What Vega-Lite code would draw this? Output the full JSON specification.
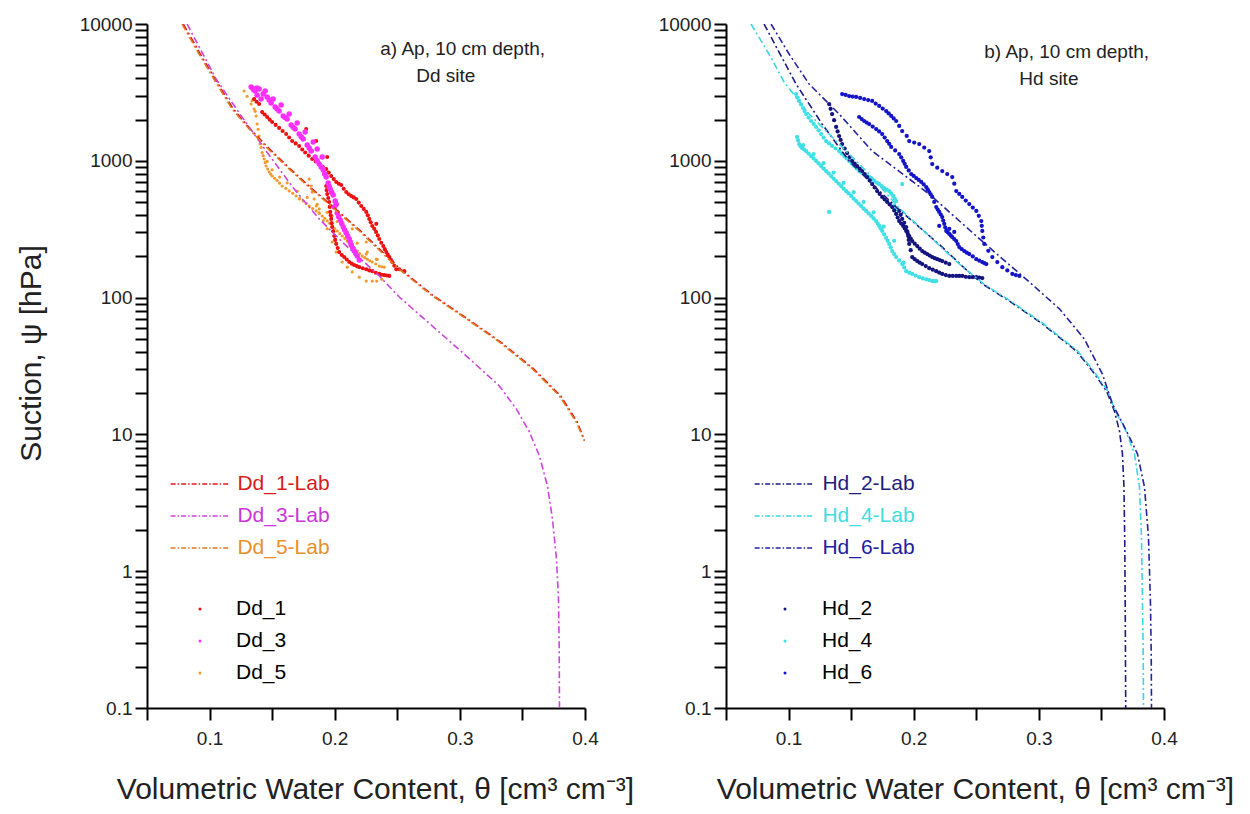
{
  "$schema": "https://vega.github.io/schema/vega-lite/v6.json",
  "background": "white",
  "padding": {"left": 16, "top": 15, "right": 10, "bottom": 4},
  "config": {
    "font": "Liberation Sans",
    "view": {"stroke": null},
    "axis": {"domainColor": "#000", "domainWidth": 2, "tickColor": "#000", "tickWidth": 2, "tickSize": 12, "labelFontSize": 19, "labelColor": "#222", "labelFont": "Liberation Sans", "titleFont": "Liberation Sans", "titleFontWeight": "normal", "titleColor": "#222", "grid": false, "labelOverlap": false, "labelFlush": false, "labelBound": false}
  },
  "bounds": "flush",
  "spacing": 141,
  "resolve": {"scale": {"x": "independent", "y": "independent", "color": "independent", "stroke": "independent"}, "axis": {"x": "independent", "y": "independent"}, "legend": {"color": "independent", "stroke": "independent"}},
  "datasets": {
    "curA": [
      {"series":"Dd_1-Lab","theta":0.079,"psi":10000},{"series":"Dd_1-Lab","theta":0.0926,"psi":6033},{"series":"Dd_1-Lab","theta":0.1054,"psi":3830},{"series":"Dd_1-Lab","theta":0.119,"psi":2390},{"series":"Dd_1-Lab","theta":0.1326,"psi":1707},{"series":"Dd_1-Lab","theta":0.1462,"psi":1262},{"series":"Dd_1-Lab","theta":0.1646,"psi":870},{"series":"Dd_1-Lab","theta":0.1822,"psi":621},{"series":"Dd_1-Lab","theta":0.199,"psi":459},{"series":"Dd_1-Lab","theta":0.2206,"psi":307},{"series":"Dd_1-Lab","theta":0.2526,"psi":161},{"series":"Dd_1-Lab","theta":0.279,"psi":103},{"series":"Dd_1-Lab","theta":0.3062,"psi":69.9},{"series":"Dd_1-Lab","theta":0.3326,"psi":47.3},{"series":"Dd_1-Lab","theta":0.359,"psi":30.1},{"series":"Dd_1-Lab","theta":0.3806,"psi":19.1},{"series":"Dd_1-Lab","theta":0.3938,"psi":12.3},{"series":"Dd_1-Lab","theta":0.3998,"psi":8.96},
      {"series":"Dd_3-Lab","theta":0.082,"psi":10000},{"series":"Dd_3-Lab","theta":0.1052,"psi":3960},{"series":"Dd_3-Lab","theta":0.1236,"psi":2240},{"series":"Dd_3-Lab","theta":0.1452,"psi":1179},{"series":"Dd_3-Lab","theta":0.1676,"psi":621},{"series":"Dd_3-Lab","theta":0.1876,"psi":376},{"series":"Dd_3-Lab","theta":0.2076,"psi":247},{"series":"Dd_3-Lab","theta":0.2356,"psi":144},{"series":"Dd_3-Lab","theta":0.2516,"psi":101},{"series":"Dd_3-Lab","theta":0.278,"psi":62},{"series":"Dd_3-Lab","theta":0.3052,"psi":37.4},{"series":"Dd_3-Lab","theta":0.3316,"psi":22.6},{"series":"Dd_3-Lab","theta":0.3452,"psi":15.3},{"series":"Dd_3-Lab","theta":0.3556,"psi":10.4},{"series":"Dd_3-Lab","theta":0.3636,"psi":6.95},{"series":"Dd_3-Lab","theta":0.37,"psi":4.2},{"series":"Dd_3-Lab","theta":0.374,"psi":2.41},{"series":"Dd_3-Lab","theta":0.3772,"psi":1.23},{"series":"Dd_3-Lab","theta":0.3788,"psi":0.626},{"series":"Dd_3-Lab","theta":0.3794,"psi":0.27},{"series":"Dd_3-Lab","theta":0.3796,"psi":0.1},
      {"series":"Dd_5-Lab","theta":0.078,"psi":10000},{"series":"Dd_5-Lab","theta":0.0916,"psi":6033},{"series":"Dd_5-Lab","theta":0.1044,"psi":3830},{"series":"Dd_5-Lab","theta":0.118,"psi":2390},{"series":"Dd_5-Lab","theta":0.1316,"psi":1707},{"series":"Dd_5-Lab","theta":0.1452,"psi":1262},{"series":"Dd_5-Lab","theta":0.1636,"psi":870},{"series":"Dd_5-Lab","theta":0.1812,"psi":621},{"series":"Dd_5-Lab","theta":0.198,"psi":459},{"series":"Dd_5-Lab","theta":0.2196,"psi":307},{"series":"Dd_5-Lab","theta":0.2516,"psi":161},{"series":"Dd_5-Lab","theta":0.278,"psi":103},{"series":"Dd_5-Lab","theta":0.3052,"psi":69.9},{"series":"Dd_5-Lab","theta":0.3316,"psi":47.3},{"series":"Dd_5-Lab","theta":0.358,"psi":30.1},{"series":"Dd_5-Lab","theta":0.3796,"psi":19.1},{"series":"Dd_5-Lab","theta":0.393,"psi":12.3},{"series":"Dd_5-Lab","theta":0.3996,"psi":8.96}
    ],
    "ptsA": [
      {"series":"Dd_5","theta":0.130,"psi":2960},{"series":"Dd_5","theta":0.1276,"psi":3237},{"series":"Dd_5","theta":0.1332,"psi":2600},{"series":"Dd_5","theta":0.1356,"psi":2390},{"series":"Dd_5","theta":0.1372,"psi":2126},{"series":"Dd_5","theta":0.138,"psi":1857},{"series":"Dd_5","theta":0.1396,"psi":1518},{"series":"Dd_5","theta":0.1404,"psi":1326},{"series":"Dd_5","theta":0.142,"psi":1150},{"series":"Dd_5","theta":0.1436,"psi":1030},{"series":"Dd_5","theta":0.1452,"psi":916},{"series":"Dd_5","theta":0.1476,"psi":828},{"series":"Dd_5","theta":0.15,"psi":774},{"series":"Dd_5","theta":0.154,"psi":718},{"series":"Dd_5","theta":0.158,"psi":654},{"series":"Dd_5","theta":0.1636,"psi":602},{"series":"Dd_5","theta":0.1692,"psi":553},{"series":"Dd_5","theta":0.1748,"psi":508},{"series":"Dd_5","theta":0.1796,"psi":467},{"series":"Dd_5","theta":0.1852,"psi":430},{"series":"Dd_5","theta":0.19,"psi":395},{"series":"Dd_5","theta":0.194,"psi":364},{"series":"Dd_5","theta":0.198,"psi":334},{"series":"Dd_5","theta":0.202,"psi":307},{"series":"Dd_5","theta":0.206,"psi":282},{"series":"Dd_5","theta":0.21,"psi":259},{"series":"Dd_5","theta":0.214,"psi":238},{"series":"Dd_5","theta":0.218,"psi":219},{"series":"Dd_5","theta":0.222,"psi":201},{"series":"Dd_5","theta":0.226,"psi":191},{"series":"Dd_5","theta":0.23,"psi":182},{"series":"Dd_5","theta":0.2356,"psi":170},{"series":"Dd_5","theta":0.2396,"psi":167},
      {"series":"Dd_5","theta":0.134,"psi":2750},{"series":"Dd_5","theta":0.1364,"psi":2300},{"series":"Dd_5","theta":0.1388,"psi":1700},{"series":"Dd_5","theta":0.1412,"psi":1250},{"series":"Dd_5","theta":0.1428,"psi":1090},{"series":"Dd_5","theta":0.1444,"psi":970},{"series":"Dd_5","theta":0.1464,"psi":870},{"series":"Dd_5","theta":0.1488,"psi":800},{"series":"Dd_5","theta":0.152,"psi":745},{"series":"Dd_5","theta":0.156,"psi":686},{"series":"Dd_5","theta":0.161,"psi":628},{"series":"Dd_5","theta":0.1664,"psi":578},{"series":"Dd_5","theta":0.172,"psi":530},{"series":"Dd_5","theta":0.1772,"psi":488},{"series":"Dd_5","theta":0.1824,"psi":448},{"series":"Dd_5","theta":0.1876,"psi":412},{"series":"Dd_5","theta":0.192,"psi":380},{"series":"Dd_5","theta":0.196,"psi":349},{"series":"Dd_5","theta":0.2,"psi":320},{"series":"Dd_5","theta":0.204,"psi":294},{"series":"Dd_5","theta":0.208,"psi":270},{"series":"Dd_5","theta":0.212,"psi":248},{"series":"Dd_5","theta":0.216,"psi":228},{"series":"Dd_5","theta":0.22,"psi":210},{"series":"Dd_5","theta":0.224,"psi":196},{"series":"Dd_5","theta":0.228,"psi":186},{"series":"Dd_5","theta":0.2328,"psi":176},{"series":"Dd_5","theta":0.2376,"psi":168},
      {"series":"Dd_5","theta":0.146,"psi":990},{"series":"Dd_5","theta":0.15,"psi":860},{"series":"Dd_5","theta":0.156,"psi":760},{"series":"Dd_5","theta":0.162,"psi":690},{"series":"Dd_5","theta":0.17,"psi":600},{"series":"Dd_5","theta":0.178,"psi":540},{"series":"Dd_5","theta":0.186,"psi":480},{"series":"Dd_5","theta":0.194,"psi":420},{"series":"Dd_5","theta":0.202,"psi":360},{"series":"Dd_5","theta":0.21,"psi":300},{"series":"Dd_5","theta":0.218,"psi":250},{"series":"Dd_5","theta":0.226,"psi":215},{"series":"Dd_5","theta":0.234,"psi":190},
      {"series":"Dd_5","theta":0.1716,"psi":526},{"series":"Dd_5","theta":0.1876,"psi":445},{"series":"Dd_5","theta":0.198,"psi":395},{"series":"Dd_5","theta":0.214,"psi":318},{"series":"Dd_5","theta":0.2252,"psi":255},
      {"series":"Dd_5","theta":0.1796,"psi":735},{"series":"Dd_5","theta":0.1812,"psi":654},{"series":"Dd_5","theta":0.182,"psi":591},{"series":"Dd_5","theta":0.1836,"psi":526},{"series":"Dd_5","theta":0.1852,"psi":467},{"series":"Dd_5","theta":0.1876,"psi":416},{"series":"Dd_5","theta":0.1908,"psi":364},{"series":"Dd_5","theta":0.194,"psi":318},{"series":"Dd_5","theta":0.198,"psi":255},{"series":"Dd_5","theta":0.2012,"psi":215},{"series":"Dd_5","theta":0.206,"psi":182},{"series":"Dd_5","theta":0.21,"psi":167},{"series":"Dd_5","theta":0.214,"psi":154},{"series":"Dd_5","theta":0.2196,"psi":141},{"series":"Dd_5","theta":0.2252,"psi":132},{"series":"Dd_5","theta":0.23,"psi":132},{"series":"Dd_5","theta":0.2336,"psi":132},{"series":"Dd_5","theta":0.2376,"psi":136},{"series":"Dd_5","theta":0.2252,"psi":208},{"series":"Dd_5","theta":0.2332,"psi":191},
      {"series":"Dd_1","theta":0.1356,"psi":2828},{"series":"Dd_1","theta":0.1396,"psi":2600},{"series":"Dd_1","theta":0.142,"psi":2270},{"series":"Dd_1","theta":0.146,"psi":2090},{"series":"Dd_1","theta":0.15,"psi":1921},{"series":"Dd_1","theta":0.1556,"psi":1740},{"series":"Dd_1","theta":0.1612,"psi":1569},{"series":"Dd_1","theta":0.166,"psi":1395},{"series":"Dd_1","theta":0.1716,"psi":1283},{"series":"Dd_1","theta":0.1764,"psi":1150},{"series":"Dd_1","theta":0.182,"psi":1030},{"series":"Dd_1","theta":0.1876,"psi":947},{"series":"Dd_1","theta":0.1932,"psi":870},{"series":"Dd_1","theta":0.1972,"psi":774},{"series":"Dd_1","theta":0.2012,"psi":700},{"series":"Dd_1","theta":0.2052,"psi":665},{"series":"Dd_1","theta":0.2092,"psi":591},{"series":"Dd_1","theta":0.2132,"psi":553},{"series":"Dd_1","theta":0.2172,"psi":526},{"series":"Dd_1","theta":0.2212,"psi":467},{"series":"Dd_1","theta":0.2252,"psi":423},{"series":"Dd_1","theta":0.2276,"psi":376},{"series":"Dd_1","theta":0.23,"psi":334},{"series":"Dd_1","theta":0.233,"psi":302},{"series":"Dd_1","theta":0.2356,"psi":268},{"series":"Dd_1","theta":0.2388,"psi":238},{"series":"Dd_1","theta":0.2412,"psi":215},{"series":"Dd_1","theta":0.2436,"psi":198},{"series":"Dd_1","theta":0.246,"psi":182},{"series":"Dd_1","theta":0.2492,"psi":161},{"series":"Dd_1","theta":0.2516,"psi":161},{"series":"Dd_1","theta":0.2556,"psi":156},
      {"series":"Dd_1","theta":0.1376,"psi":2700},{"series":"Dd_1","theta":0.144,"psi":2180},{"series":"Dd_1","theta":0.148,"psi":2000},{"series":"Dd_1","theta":0.1528,"psi":1830},{"series":"Dd_1","theta":0.1584,"psi":1650},{"series":"Dd_1","theta":0.1636,"psi":1480},{"series":"Dd_1","theta":0.1688,"psi":1340},{"series":"Dd_1","theta":0.174,"psi":1210},{"series":"Dd_1","theta":0.1792,"psi":1090},{"series":"Dd_1","theta":0.1848,"psi":990},{"series":"Dd_1","theta":0.1904,"psi":905},{"series":"Dd_1","theta":0.1952,"psi":820},{"series":"Dd_1","theta":0.1992,"psi":735},{"series":"Dd_1","theta":0.2032,"psi":680},{"series":"Dd_1","theta":0.2072,"psi":625},{"series":"Dd_1","theta":0.2112,"psi":570},{"series":"Dd_1","theta":0.2152,"psi":540},{"series":"Dd_1","theta":0.2192,"psi":495},{"series":"Dd_1","theta":0.2232,"psi":445},{"series":"Dd_1","theta":0.2264,"psi":400},{"series":"Dd_1","theta":0.2288,"psi":355},{"series":"Dd_1","theta":0.2316,"psi":318},{"series":"Dd_1","theta":0.2344,"psi":285},{"series":"Dd_1","theta":0.2372,"psi":252},{"series":"Dd_1","theta":0.24,"psi":226},{"series":"Dd_1","theta":0.2424,"psi":206},{"series":"Dd_1","theta":0.2448,"psi":190},{"series":"Dd_1","theta":0.2476,"psi":171},
      {"series":"Dd_1","theta":0.1636,"psi":2197},{"series":"Dd_1","theta":0.1772,"psi":1707},{"series":"Dd_1","theta":0.1852,"psi":1395},{"series":"Dd_1","theta":0.194,"psi":1066},{"series":"Dd_1","theta":0.2332,"psi":346},
      {"series":"Dd_1","theta":0.1932,"psi":654},{"series":"Dd_1","theta":0.194,"psi":571},{"series":"Dd_1","theta":0.1956,"psi":500},{"series":"Dd_1","theta":0.1964,"psi":423},{"series":"Dd_1","theta":0.1972,"psi":376},{"series":"Dd_1","theta":0.198,"psi":328},{"series":"Dd_1","theta":0.1996,"psi":282},{"series":"Dd_1","theta":0.2012,"psi":247},{"series":"Dd_1","theta":0.2036,"psi":215},{"series":"Dd_1","theta":0.2076,"psi":198},{"series":"Dd_1","theta":0.2116,"psi":182},{"series":"Dd_1","theta":0.2156,"psi":173},{"series":"Dd_1","theta":0.2196,"psi":167},{"series":"Dd_1","theta":0.2252,"psi":161},{"series":"Dd_1","theta":0.23,"psi":156},{"series":"Dd_1","theta":0.2356,"psi":149},{"series":"Dd_1","theta":0.2396,"psi":146},{"series":"Dd_1","theta":0.2436,"psi":144},
      {"series":"Dd_1","theta":0.1936,"psi":610},{"series":"Dd_1","theta":0.1948,"psi":535},{"series":"Dd_1","theta":0.196,"psi":460},{"series":"Dd_1","theta":0.1968,"psi":400},{"series":"Dd_1","theta":0.1976,"psi":350},{"series":"Dd_1","theta":0.1988,"psi":305},{"series":"Dd_1","theta":0.2004,"psi":264},{"series":"Dd_1","theta":0.2024,"psi":230},{"series":"Dd_1","theta":0.2056,"psi":205},{"series":"Dd_1","theta":0.2096,"psi":190},{"series":"Dd_1","theta":0.2136,"psi":177},{"series":"Dd_1","theta":0.2176,"psi":170},{"series":"Dd_1","theta":0.2224,"psi":164},{"series":"Dd_1","theta":0.2276,"psi":158},{"series":"Dd_1","theta":0.2328,"psi":152},{"series":"Dd_1","theta":0.2376,"psi":147},{"series":"Dd_1","theta":0.2416,"psi":145},
      {"series":"Dd_3","theta":0.1332,"psi":3464},{"series":"Dd_3","theta":0.1364,"psi":3237},{"series":"Dd_3","theta":0.1396,"psi":3346},{"series":"Dd_3","theta":0.1428,"psi":3076},{"series":"Dd_3","theta":0.146,"psi":2927},{"series":"Dd_3","theta":0.1412,"psi":2828},{"series":"Dd_3","theta":0.1492,"psi":2646},{"series":"Dd_3","theta":0.1524,"psi":2474},{"series":"Dd_3","theta":0.1556,"psi":2312},{"series":"Dd_3","theta":0.1588,"psi":2126},{"series":"Dd_3","theta":0.162,"psi":2020},{"series":"Dd_3","theta":0.1652,"psi":1827},{"series":"Dd_3","theta":0.1684,"psi":1707},{"series":"Dd_3","theta":0.1716,"psi":1569},{"series":"Dd_3","theta":0.1748,"psi":1442},{"series":"Dd_3","theta":0.178,"psi":1304},{"series":"Dd_3","theta":0.1812,"psi":1179},{"series":"Dd_3","theta":0.1844,"psi":1066},{"series":"Dd_3","theta":0.1876,"psi":947},{"series":"Dd_3","theta":0.1908,"psi":856},{"series":"Dd_3","theta":0.1932,"psi":761},{"series":"Dd_3","theta":0.1948,"psi":688},{"series":"Dd_3","theta":0.1964,"psi":621},{"series":"Dd_3","theta":0.1988,"psi":562},{"series":"Dd_3","theta":0.2004,"psi":508},{"series":"Dd_3","theta":0.1996,"psi":459},{"series":"Dd_3","theta":0.202,"psi":416},{"series":"Dd_3","theta":0.2044,"psi":369},{"series":"Dd_3","theta":0.2068,"psi":328},{"series":"Dd_3","theta":0.2092,"psi":297},{"series":"Dd_3","theta":0.2116,"psi":268},{"series":"Dd_3","theta":0.2132,"psi":242},{"series":"Dd_3","theta":0.2156,"psi":219},{"series":"Dd_3","theta":0.218,"psi":201},{"series":"Dd_3","theta":0.2196,"psi":188},
      {"series":"Dd_3","theta":0.138,"psi":3020},{"series":"Dd_3","theta":0.1444,"psi":3237},{"series":"Dd_3","theta":0.1508,"psi":2828},{"series":"Dd_3","theta":0.1572,"psi":2560},{"series":"Dd_3","theta":0.1636,"psi":2197},{"series":"Dd_3","theta":0.17,"psi":1890},{"series":"Dd_3","theta":0.1764,"psi":1623},{"series":"Dd_3","theta":0.1828,"psi":1372},{"series":"Dd_3","theta":0.19,"psi":1066},{"series":"Dd_3","theta":0.186,"psi":1219},{"series":"Dd_3","theta":0.1352,"psi":3300},{"series":"Dd_3","theta":0.138,"psi":3400},
      {"series":"Dd_3","theta":0.1348,"psi":3380},{"series":"Dd_3","theta":0.1476,"psi":2780},{"series":"Dd_3","theta":0.154,"psi":2390},{"series":"Dd_3","theta":0.1604,"psi":2070},{"series":"Dd_3","theta":0.1668,"psi":1760},{"series":"Dd_3","theta":0.1732,"psi":1500},{"series":"Dd_3","theta":0.1796,"psi":1240},{"series":"Dd_3","theta":0.186,"psi":1000},{"series":"Dd_3","theta":0.1892,"psi":900},{"series":"Dd_3","theta":0.192,"psi":800},{"series":"Dd_3","theta":0.1956,"psi":650},{"series":"Dd_3","theta":0.1976,"psi":590},{"series":"Dd_3","theta":0.2012,"psi":480},{"series":"Dd_3","theta":0.2032,"psi":390},{"series":"Dd_3","theta":0.2056,"psi":348},{"series":"Dd_3","theta":0.208,"psi":312},{"series":"Dd_3","theta":0.2104,"psi":282},{"series":"Dd_3","theta":0.2124,"psi":255},{"series":"Dd_3","theta":0.2144,"psi":230},{"series":"Dd_3","theta":0.2168,"psi":210}
    ],
    "curB": [
      {"series":"Hd_2-Lab","theta":0.0804,"psi":10000},{"series":"Hd_2-Lab","theta":0.0932,"psi":6033},{"series":"Hd_2-Lab","theta":0.106,"psi":3640},{"series":"Hd_2-Lab","theta":0.1268,"psi":1857},{"series":"Hd_2-Lab","theta":0.1484,"psi":997},{"series":"Hd_2-Lab","theta":0.1668,"psi":676},{"series":"Hd_2-Lab","theta":0.186,"psi":459},{"series":"Hd_2-Lab","theta":0.2044,"psi":328},{"series":"Hd_2-Lab","theta":0.2228,"psi":234},{"series":"Hd_2-Lab","theta":0.2388,"psi":170},{"series":"Hd_2-Lab","theta":0.2548,"psi":126},{"series":"Hd_2-Lab","theta":0.2764,"psi":94.4},{"series":"Hd_2-Lab","theta":0.3028,"psi":64.2},{"series":"Hd_2-Lab","theta":0.33,"psi":40.7},{"series":"Hd_2-Lab","theta":0.3428,"psi":29.1},{"series":"Hd_2-Lab","theta":0.354,"psi":20.8},{"series":"Hd_2-Lab","theta":0.3604,"psi":14.8},{"series":"Hd_2-Lab","theta":0.3644,"psi":10.6},{"series":"Hd_2-Lab","theta":0.3668,"psi":7.19},{"series":"Hd_2-Lab","theta":0.368,"psi":4.13},{"series":"Hd_2-Lab","theta":0.3686,"psi":1.78},{"series":"Hd_2-Lab","theta":0.369,"psi":0.576},{"series":"Hd_2-Lab","theta":0.3692,"psi":0.248},{"series":"Hd_2-Lab","theta":0.3694,"psi":0.1},
      {"series":"Hd_4-Lab","theta":0.07,"psi":10000},{"series":"Hd_4-Lab","theta":0.0844,"psi":6033},{"series":"Hd_4-Lab","theta":0.0964,"psi":3770},{"series":"Hd_4-Lab","theta":0.1164,"psi":2197},{"series":"Hd_4-Lab","theta":0.1404,"psi":1326},{"series":"Hd_4-Lab","theta":0.1644,"psi":800},{"series":"Hd_4-Lab","theta":0.1884,"psi":452},{"series":"Hd_4-Lab","theta":0.2124,"psi":282},{"series":"Hd_4-Lab","theta":0.2364,"psi":176},{"series":"Hd_4-Lab","theta":0.2558,"psi":126},{"series":"Hd_4-Lab","theta":0.2774,"psi":94.4},{"series":"Hd_4-Lab","theta":0.3038,"psi":64.2},{"series":"Hd_4-Lab","theta":0.331,"psi":40.7},{"series":"Hd_4-Lab","theta":0.3438,"psi":29.1},{"series":"Hd_4-Lab","theta":0.355,"psi":20.8},{"series":"Hd_4-Lab","theta":0.3612,"psi":14.8},{"series":"Hd_4-Lab","theta":0.3696,"psi":10.6},{"series":"Hd_4-Lab","theta":0.3764,"psi":7.19},{"series":"Hd_4-Lab","theta":0.3804,"psi":4.13},{"series":"Hd_4-Lab","theta":0.382,"psi":1.78},{"series":"Hd_4-Lab","theta":0.3828,"psi":0.576},{"series":"Hd_4-Lab","theta":0.3834,"psi":0.248},{"series":"Hd_4-Lab","theta":0.3836,"psi":0.1},
      {"series":"Hd_6-Lab","theta":0.086,"psi":10000},{"series":"Hd_6-Lab","theta":0.1004,"psi":6033},{"series":"Hd_6-Lab","theta":0.1164,"psi":3640},{"series":"Hd_6-Lab","theta":0.1404,"psi":2197},{"series":"Hd_6-Lab","theta":0.1668,"psi":1179},{"series":"Hd_6-Lab","theta":0.2124,"psi":571},{"series":"Hd_6-Lab","theta":0.25,"psi":282},{"series":"Hd_6-Lab","theta":0.2684,"psi":201},{"series":"Hd_6-Lab","theta":0.29,"psi":136},{"series":"Hd_6-Lab","theta":0.3164,"psi":82.8},{"series":"Hd_6-Lab","theta":0.3364,"psi":49.8},{"series":"Hd_6-Lab","theta":0.3508,"psi":27.6},{"series":"Hd_6-Lab","theta":0.3588,"psi":16.7},{"series":"Hd_6-Lab","theta":0.37,"psi":10.6},{"series":"Hd_6-Lab","theta":0.3788,"psi":7.19},{"series":"Hd_6-Lab","theta":0.3844,"psi":4.13},{"series":"Hd_6-Lab","theta":0.3876,"psi":1.78},{"series":"Hd_6-Lab","theta":0.3892,"psi":0.576},{"series":"Hd_6-Lab","theta":0.3898,"psi":0.248},{"series":"Hd_6-Lab","theta":0.39,"psi":0.1}
    ],
    "ptsB": [
      {"series":"Hd_4","theta":0.106,"psi":3076},{"series":"Hd_4","theta":0.1084,"psi":2737},{"series":"Hd_4","theta":0.1116,"psi":2432},{"series":"Hd_4","theta":0.114,"psi":2197},{"series":"Hd_4","theta":0.118,"psi":1954},{"series":"Hd_4","theta":0.122,"psi":1767},{"series":"Hd_4","theta":0.126,"psi":1569},{"series":"Hd_4","theta":0.13,"psi":1395},{"series":"Hd_4","theta":0.1348,"psi":1283},{"series":"Hd_4","theta":0.1404,"psi":1179},{"series":"Hd_4","theta":0.1444,"psi":1084},{"series":"Hd_4","theta":0.1484,"psi":997},{"series":"Hd_4","theta":0.1524,"psi":916},{"series":"Hd_4","theta":0.1564,"psi":842},{"series":"Hd_4","theta":0.1604,"psi":800},{"series":"Hd_4","theta":0.1644,"psi":761},{"series":"Hd_4","theta":0.1684,"psi":711},{"series":"Hd_4","theta":0.1724,"psi":676},{"series":"Hd_4","theta":0.1764,"psi":632},{"series":"Hd_4","theta":0.1804,"psi":601},{"series":"Hd_4","theta":0.1836,"psi":553},{"series":"Hd_4","theta":0.186,"psi":508},{"series":"Hd_4","theta":0.186,"psi":409},{"series":"Hd_4","theta":0.1908,"psi":676},{"series":"Hd_4","theta":0.1844,"psi":470},{"series":"Hd_4","theta":0.1852,"psi":440},
      {"series":"Hd_4","theta":0.1072,"psi":2900},{"series":"Hd_4","theta":0.11,"psi":2580},{"series":"Hd_4","theta":0.1128,"psi":2310},{"series":"Hd_4","theta":0.116,"psi":2070},{"series":"Hd_4","theta":0.12,"psi":1860},{"series":"Hd_4","theta":0.124,"psi":1670},{"series":"Hd_4","theta":0.128,"psi":1480},{"series":"Hd_4","theta":0.1324,"psi":1340},{"series":"Hd_4","theta":0.1376,"psi":1230},{"series":"Hd_4","theta":0.1424,"psi":1130},{"series":"Hd_4","theta":0.1464,"psi":1040},{"series":"Hd_4","theta":0.1504,"psi":955},{"series":"Hd_4","theta":0.1544,"psi":880},{"series":"Hd_4","theta":0.1584,"psi":820},{"series":"Hd_4","theta":0.1624,"psi":780},{"series":"Hd_4","theta":0.1664,"psi":736},{"series":"Hd_4","theta":0.1704,"psi":693},{"series":"Hd_4","theta":0.1744,"psi":654},{"series":"Hd_4","theta":0.1784,"psi":616},{"series":"Hd_4","theta":0.182,"psi":577},{"series":"Hd_4","theta":0.1848,"psi":530},
      {"series":"Hd_4","theta":0.1068,"psi":1493},{"series":"Hd_4","theta":0.1084,"psi":1326},{"series":"Hd_4","theta":0.1108,"psi":1240},{"series":"Hd_4","theta":0.114,"psi":1179},{"series":"Hd_4","theta":0.118,"psi":1084},{"series":"Hd_4","theta":0.122,"psi":997},{"series":"Hd_4","theta":0.126,"psi":916},{"series":"Hd_4","theta":0.13,"psi":842},{"series":"Hd_4","theta":0.134,"psi":774},{"series":"Hd_4","theta":0.138,"psi":711},{"series":"Hd_4","theta":0.142,"psi":654},{"series":"Hd_4","theta":0.146,"psi":601},{"series":"Hd_4","theta":0.15,"psi":553},{"series":"Hd_4","theta":0.154,"psi":508},{"series":"Hd_4","theta":0.158,"psi":467},{"series":"Hd_4","theta":0.162,"psi":430},{"series":"Hd_4","theta":0.166,"psi":395},{"series":"Hd_4","theta":0.17,"psi":363},{"series":"Hd_4","theta":0.1724,"psi":334},{"series":"Hd_4","theta":0.1748,"psi":307},{"series":"Hd_4","theta":0.178,"psi":273},{"series":"Hd_4","theta":0.1804,"psi":247},{"series":"Hd_4","theta":0.1828,"psi":219},{"series":"Hd_4","theta":0.186,"psi":198},{"series":"Hd_4","theta":0.1908,"psi":176},{"series":"Hd_4","theta":0.194,"psi":156},{"series":"Hd_4","theta":0.1988,"psi":149},{"series":"Hd_4","theta":0.2044,"psi":141},{"series":"Hd_4","theta":0.21,"psi":136},{"series":"Hd_4","theta":0.2148,"psi":132},{"series":"Hd_4","theta":0.218,"psi":132},{"series":"Hd_4","theta":0.1324,"psi":423},
      {"series":"Hd_4","theta":0.1076,"psi":1410},{"series":"Hd_4","theta":0.1096,"psi":1280},{"series":"Hd_4","theta":0.1124,"psi":1210},{"series":"Hd_4","theta":0.116,"psi":1130},{"series":"Hd_4","theta":0.12,"psi":1040},{"series":"Hd_4","theta":0.124,"psi":956},{"series":"Hd_4","theta":0.128,"psi":878},{"series":"Hd_4","theta":0.132,"psi":808},{"series":"Hd_4","theta":0.136,"psi":742},{"series":"Hd_4","theta":0.14,"psi":682},{"series":"Hd_4","theta":0.144,"psi":627},{"series":"Hd_4","theta":0.148,"psi":577},{"series":"Hd_4","theta":0.152,"psi":530},{"series":"Hd_4","theta":0.156,"psi":487},{"series":"Hd_4","theta":0.16,"psi":448},{"series":"Hd_4","theta":0.164,"psi":412},{"series":"Hd_4","theta":0.168,"psi":379},{"series":"Hd_4","theta":0.1712,"psi":348},{"series":"Hd_4","theta":0.1736,"psi":320},{"series":"Hd_4","theta":0.1764,"psi":290},{"series":"Hd_4","theta":0.1792,"psi":260},{"series":"Hd_4","theta":0.1816,"psi":233},{"series":"Hd_4","theta":0.1844,"psi":208},{"series":"Hd_4","theta":0.1884,"psi":187},{"series":"Hd_4","theta":0.1924,"psi":166},{"series":"Hd_4","theta":0.1964,"psi":152},{"series":"Hd_4","theta":0.2016,"psi":145},{"series":"Hd_4","theta":0.2072,"psi":138},{"series":"Hd_4","theta":0.2124,"psi":134},{"series":"Hd_4","theta":0.2164,"psi":132},
      {"series":"Hd_4","theta":0.1116,"psi":1300},{"series":"Hd_4","theta":0.12,"psi":1120},{"series":"Hd_4","theta":0.128,"psi":960},{"series":"Hd_4","theta":0.136,"psi":820},{"series":"Hd_4","theta":0.144,"psi":690},{"series":"Hd_4","theta":0.152,"psi":590},{"series":"Hd_4","theta":0.16,"psi":500},{"series":"Hd_4","theta":0.168,"psi":420},{"series":"Hd_4","theta":0.176,"psi":330},{"series":"Hd_4","theta":0.1844,"psi":260},{"series":"Hd_4","theta":0.192,"psi":180},
      {"series":"Hd_2","theta":0.1324,"psi":2600},{"series":"Hd_2","theta":0.1348,"psi":2197},{"series":"Hd_2","theta":0.138,"psi":1767},{"series":"Hd_2","theta":0.1404,"psi":1518},{"series":"Hd_2","theta":0.1428,"psi":1326},{"series":"Hd_2","theta":0.1468,"psi":1140},{"series":"Hd_2","theta":0.1508,"psi":997},{"series":"Hd_2","theta":0.1548,"psi":916},{"series":"Hd_2","theta":0.1588,"psi":842},{"series":"Hd_2","theta":0.1628,"psi":761},{"series":"Hd_2","theta":0.1668,"psi":676},{"series":"Hd_2","theta":0.1708,"psi":601},{"series":"Hd_2","theta":0.1748,"psi":544},{"series":"Hd_2","theta":0.1788,"psi":500},{"series":"Hd_2","theta":0.1828,"psi":459},{"series":"Hd_2","theta":0.186,"psi":409},{"series":"Hd_2","theta":0.1884,"psi":363},{"series":"Hd_2","theta":0.1916,"psi":334},{"series":"Hd_2","theta":0.194,"psi":307},{"series":"Hd_2","theta":0.1964,"psi":282},{"series":"Hd_2","theta":0.1988,"psi":259},{"series":"Hd_2","theta":0.2028,"psi":238},{"series":"Hd_2","theta":0.2068,"psi":219},{"series":"Hd_2","theta":0.2108,"psi":208},{"series":"Hd_2","theta":0.2148,"psi":198},{"series":"Hd_2","theta":0.2188,"psi":191},{"series":"Hd_2","theta":0.2228,"psi":185},{"series":"Hd_2","theta":0.2284,"psi":176},
      {"series":"Hd_2","theta":0.1336,"psi":2400},{"series":"Hd_2","theta":0.1364,"psi":1980},{"series":"Hd_2","theta":0.1392,"psi":1640},{"series":"Hd_2","theta":0.1416,"psi":1420},{"series":"Hd_2","theta":0.1448,"psi":1230},{"series":"Hd_2","theta":0.1488,"psi":1065},{"series":"Hd_2","theta":0.1528,"psi":955},{"series":"Hd_2","theta":0.1568,"psi":878},{"series":"Hd_2","theta":0.1608,"psi":800},{"series":"Hd_2","theta":0.1648,"psi":718},{"series":"Hd_2","theta":0.1688,"psi":638},{"series":"Hd_2","theta":0.1728,"psi":572},{"series":"Hd_2","theta":0.1768,"psi":522},{"series":"Hd_2","theta":0.1808,"psi":480},{"series":"Hd_2","theta":0.1844,"psi":434},{"series":"Hd_2","theta":0.1872,"psi":385},{"series":"Hd_2","theta":0.19,"psi":348},{"series":"Hd_2","theta":0.1928,"psi":320},{"series":"Hd_2","theta":0.1952,"psi":294},{"series":"Hd_2","theta":0.1976,"psi":270},{"series":"Hd_2","theta":0.2008,"psi":248},{"series":"Hd_2","theta":0.2048,"psi":228},{"series":"Hd_2","theta":0.2088,"psi":213},{"series":"Hd_2","theta":0.2128,"psi":203},{"series":"Hd_2","theta":0.2168,"psi":194},{"series":"Hd_2","theta":0.2208,"psi":188},{"series":"Hd_2","theta":0.2256,"psi":180},
      {"series":"Hd_2","theta":0.1884,"psi":430},{"series":"Hd_2","theta":0.1908,"psi":376},{"series":"Hd_2","theta":0.194,"psi":328},{"series":"Hd_2","theta":0.1956,"psi":282},{"series":"Hd_2","theta":0.1964,"psi":247},{"series":"Hd_2","theta":0.1988,"psi":198},{"series":"Hd_2","theta":0.2028,"psi":185},{"series":"Hd_2","theta":0.2068,"psi":176},{"series":"Hd_2","theta":0.2124,"psi":164},{"series":"Hd_2","theta":0.218,"psi":156},{"series":"Hd_2","theta":0.2228,"psi":149},{"series":"Hd_2","theta":0.2284,"psi":144},{"series":"Hd_2","theta":0.234,"psi":144},{"series":"Hd_2","theta":0.2388,"psi":144},{"series":"Hd_2","theta":0.2444,"psi":141},{"series":"Hd_2","theta":0.25,"psi":141},{"series":"Hd_2","theta":0.2548,"psi":139},
      {"series":"Hd_2","theta":0.1896,"psi":403},{"series":"Hd_2","theta":0.1924,"psi":352},{"series":"Hd_2","theta":0.1948,"psi":305},{"series":"Hd_2","theta":0.196,"psi":264},{"series":"Hd_2","theta":0.1976,"psi":222},{"series":"Hd_2","theta":0.2008,"psi":191},{"series":"Hd_2","theta":0.2048,"psi":180},{"series":"Hd_2","theta":0.2096,"psi":170},{"series":"Hd_2","theta":0.2152,"psi":160},{"series":"Hd_2","theta":0.2204,"psi":152},{"series":"Hd_2","theta":0.2256,"psi":146},{"series":"Hd_2","theta":0.2312,"psi":144},{"series":"Hd_2","theta":0.2364,"psi":144},{"series":"Hd_2","theta":0.2416,"psi":142},{"series":"Hd_2","theta":0.2472,"psi":141},{"series":"Hd_2","theta":0.2524,"psi":140},
      {"series":"Hd_6","theta":0.1428,"psi":3076},{"series":"Hd_6","theta":0.1484,"psi":2976},{"series":"Hd_6","theta":0.154,"psi":2927},{"series":"Hd_6","theta":0.1604,"psi":2828},{"series":"Hd_6","theta":0.1668,"psi":2737},{"series":"Hd_6","theta":0.1724,"psi":2516},{"series":"Hd_6","theta":0.178,"psi":2312},{"series":"Hd_6","theta":0.182,"psi":2126},{"series":"Hd_6","theta":0.186,"psi":1954},{"series":"Hd_6","theta":0.1908,"psi":1651},{"series":"Hd_6","theta":0.1964,"psi":1395},{"series":"Hd_6","theta":0.2044,"psi":1326},{"series":"Hd_6","theta":0.2124,"psi":1179},{"series":"Hd_6","theta":0.2148,"psi":947},{"series":"Hd_6","theta":0.2228,"psi":842},{"series":"Hd_6","theta":0.2308,"psi":761},{"series":"Hd_6","theta":0.234,"psi":601},{"series":"Hd_6","theta":0.2388,"psi":544},{"series":"Hd_6","theta":0.2444,"psi":483},{"series":"Hd_6","theta":0.25,"psi":430},{"series":"Hd_6","theta":0.254,"psi":363},{"series":"Hd_6","theta":0.2548,"psi":307},{"series":"Hd_6","theta":0.2564,"psi":247},{"series":"Hd_6","theta":0.2628,"psi":198},{"series":"Hd_6","theta":0.2708,"psi":167},{"series":"Hd_6","theta":0.2788,"psi":149},{"series":"Hd_6","theta":0.2844,"psi":144},
      {"series":"Hd_6","theta":0.1456,"psi":3030},{"series":"Hd_6","theta":0.1512,"psi":2950},{"series":"Hd_6","theta":0.1572,"psi":2880},{"series":"Hd_6","theta":0.1636,"psi":2780},{"series":"Hd_6","theta":0.1696,"psi":2620},{"series":"Hd_6","theta":0.1752,"psi":2410},{"series":"Hd_6","theta":0.18,"psi":2220},{"series":"Hd_6","theta":0.184,"psi":2040},{"series":"Hd_6","theta":0.1884,"psi":1800},{"series":"Hd_6","theta":0.1944,"psi":1520},{"series":"Hd_6","theta":0.2004,"psi":1360},{"series":"Hd_6","theta":0.2084,"psi":1250},{"series":"Hd_6","theta":0.2136,"psi":1060},{"series":"Hd_6","theta":0.2188,"psi":890},{"series":"Hd_6","theta":0.2268,"psi":800},{"series":"Hd_6","theta":0.2324,"psi":680},{"series":"Hd_6","theta":0.2364,"psi":572},{"series":"Hd_6","theta":0.2416,"psi":512},{"series":"Hd_6","theta":0.2472,"psi":455},{"series":"Hd_6","theta":0.252,"psi":396},{"series":"Hd_6","theta":0.2544,"psi":335},{"series":"Hd_6","theta":0.2556,"psi":275},{"series":"Hd_6","theta":0.2596,"psi":220},{"series":"Hd_6","theta":0.2668,"psi":182},{"series":"Hd_6","theta":0.2748,"psi":158},{"series":"Hd_6","theta":0.2816,"psi":146},
      {"series":"Hd_6","theta":0.1564,"psi":2090},{"series":"Hd_6","theta":0.1604,"psi":1954},{"series":"Hd_6","theta":0.1644,"psi":1857},{"series":"Hd_6","theta":0.17,"psi":1707},{"series":"Hd_6","theta":0.1748,"psi":1569},{"series":"Hd_6","theta":0.1788,"psi":1395},{"series":"Hd_6","theta":0.182,"psi":1262},{"series":"Hd_6","theta":0.1884,"psi":1120},{"series":"Hd_6","theta":0.1916,"psi":997},{"series":"Hd_6","theta":0.194,"psi":901},{"series":"Hd_6","theta":0.198,"psi":800},{"series":"Hd_6","theta":0.202,"psi":748},{"series":"Hd_6","theta":0.206,"psi":700},{"series":"Hd_6","theta":0.21,"psi":643},{"series":"Hd_6","theta":0.2124,"psi":591},{"series":"Hd_6","theta":0.2148,"psi":544},{"series":"Hd_6","theta":0.218,"psi":459},{"series":"Hd_6","theta":0.2204,"psi":423},{"series":"Hd_6","theta":0.2228,"psi":388},{"series":"Hd_6","theta":0.2244,"psi":346},{"series":"Hd_6","theta":0.226,"psi":307},{"series":"Hd_6","theta":0.2284,"psi":292},{"series":"Hd_6","theta":0.2308,"psi":277},{"series":"Hd_6","theta":0.234,"psi":259},{"series":"Hd_6","theta":0.2364,"psi":234},{"series":"Hd_6","theta":0.2404,"psi":219},{"series":"Hd_6","theta":0.2444,"psi":208},{"series":"Hd_6","theta":0.25,"psi":191},{"series":"Hd_6","theta":0.2548,"psi":182},{"series":"Hd_6","theta":0.258,"psi":176},{"series":"Hd_6","theta":0.2204,"psi":334},{"series":"Hd_6","theta":0.2284,"psi":318},{"series":"Hd_6","theta":0.2324,"psi":302},
      {"series":"Hd_6","theta":0.1584,"psi":2020},{"series":"Hd_6","theta":0.1624,"psi":1905},{"series":"Hd_6","theta":0.1672,"psi":1780},{"series":"Hd_6","theta":0.1724,"psi":1640},{"series":"Hd_6","theta":0.1768,"psi":1480},{"series":"Hd_6","theta":0.1804,"psi":1330},{"series":"Hd_6","theta":0.1852,"psi":1190},{"series":"Hd_6","theta":0.19,"psi":1060},{"series":"Hd_6","theta":0.1928,"psi":950},{"series":"Hd_6","theta":0.196,"psi":850},{"series":"Hd_6","theta":0.2,"psi":775},{"series":"Hd_6","theta":0.204,"psi":724},{"series":"Hd_6","theta":0.208,"psi":672},{"series":"Hd_6","theta":0.2112,"psi":617},{"series":"Hd_6","theta":0.2136,"psi":568},{"series":"Hd_6","theta":0.2164,"psi":500},{"series":"Hd_6","theta":0.2192,"psi":440},{"series":"Hd_6","theta":0.2216,"psi":405},{"series":"Hd_6","theta":0.2236,"psi":366},{"series":"Hd_6","theta":0.2252,"psi":326},{"series":"Hd_6","theta":0.2272,"psi":300},{"series":"Hd_6","theta":0.2296,"psi":285},{"series":"Hd_6","theta":0.2324,"psi":268},{"series":"Hd_6","theta":0.2352,"psi":246},{"series":"Hd_6","theta":0.2384,"psi":226},{"series":"Hd_6","theta":0.2424,"psi":213},{"series":"Hd_6","theta":0.2472,"psi":200},{"series":"Hd_6","theta":0.2524,"psi":186},{"series":"Hd_6","theta":0.2564,"psi":179}
    ]
  },
  "hconcat": [
    {
      "width": 438,
      "height": 684,
      "layer": [
        {
          "encoding": {
            "x": {"field": "theta", "type": "quantitative", "scale": {"domain": [0.05, 0.4], "nice": false, "zero": false},
              "axis": {"title": "Volumetric Water Content, θ [cm³ cm⁻³]", "titleFontSize": 30, "titlePadding": 26, "titleX": 228, "labelPadding": 9, "values": [0.05, 0.1, 0.15, 0.2, 0.25, 0.3, 0.35, 0.4], "format": ".1f", "labelExpr": "round(datum.value*100)%10==0 ? datum.label : ''", "encode": {"ticks": {"update": {"y2": {"signal": "round(datum.value*100)%10==0 ? 12 : 6"}}}}}},
            "y": {"field": "psi", "type": "quantitative", "scale": {"type": "log", "domain": [0.1, 10000], "nice": false},
              "axis": {"title": "Suction, ψ [hPa]", "titleFontSize": 30, "titlePadding": 33, "titleY": 329, "labelPadding": 3, "values": [0.1,0.2,0.3,0.4,0.5,0.6,0.7,0.8,0.9,1,2,3,4,5,6,7,8,9,10,20,30,40,50,60,70,80,90,100,200,300,400,500,600,700,800,900,1000,2000,3000,4000,5000,6000,7000,8000,9000,10000], "format": "~g", "labelExpr": "abs(log(datum.value)/LN10-round(log(datum.value)/LN10))<0.001 ? datum.label : ''", "encode": {"ticks": {"update": {"x2": {"signal": "abs(log(datum.value)/LN10-round(log(datum.value)/LN10))<0.001 ? -12 : -6"}}}}}}
          },
          "layer": [
            {"data": {"name": "ptsA"}, "transform": [{"filter": "datum.series == 'Dd_5'"}], "mark": {"type": "circle", "size": 10, "opacity": 1, "clip": true},
              "encoding": {"color": {"field": "series", "type": "nominal", "scale": {"domain": ["Dd_1", "Dd_3", "Dd_5"], "range": ["#ee1111", "#ff30ff", "#f39a2a"]},
                "legend": {"title": null, "orient": "none", "legendX": 42.5, "legendY": 574.5, "symbolType": "circle", "symbolSize": 9, "labelFontSize": 21, "labelFont": "Liberation Sans", "labelOffset": 25.5, "rowPadding": 10, "padding": 0, "labelLimit": 300, "encode": {"labels": {"update": {"fill": {"signal": "datum.value=='Dd_1'?'#d91c1c':datum.value=='Dd_3'?'#c936d8':'#e8902e'"}}}}}}}},
            {"data": {"name": "ptsA"}, "transform": [{"filter": "datum.series == 'Dd_1'"}], "mark": {"type": "circle", "size": 17, "opacity": 1, "clip": true},
              "encoding": {"color": {"field": "series", "type": "nominal", "scale": {"domain": ["Dd_1", "Dd_3", "Dd_5"], "range": ["#ee1111", "#ff30ff", "#f39a2a"]},
                "legend": {"title": null, "orient": "none", "legendX": 42.5, "legendY": 574.5, "symbolType": "circle", "symbolSize": 9, "labelFontSize": 21, "labelFont": "Liberation Sans", "labelOffset": 25.5, "rowPadding": 10, "padding": 0, "labelLimit": 300, "encode": {"labels": {"update": {"fill": {"signal": "datum.value=='Dd_1'?'#d91c1c':datum.value=='Dd_3'?'#c936d8':'#e8902e'"}}}}}}}},
            {"data": {"name": "ptsA"}, "transform": [{"filter": "datum.series == 'Dd_3'"}], "mark": {"type": "circle", "size": 30, "opacity": 1, "clip": true},
              "encoding": {"color": {"field": "series", "type": "nominal", "scale": {"domain": ["Dd_1", "Dd_3", "Dd_5"], "range": ["#ee1111", "#ff30ff", "#f39a2a"]},
                "legend": {"title": null, "orient": "none", "legendX": 42.5, "legendY": 574.5, "symbolType": "circle", "symbolSize": 9, "labelFontSize": 21, "labelFont": "Liberation Sans", "labelOffset": 25.5, "rowPadding": 10, "padding": 0, "labelLimit": 300, "encode": {"labels": {"update": {"fill": {"signal": "datum.value=='Dd_1'?'#d91c1c':datum.value=='Dd_3'?'#c936d8':'#e8902e'"}}}}}}}},
            {"data": {"name": "curA"}, "mark": {"type": "line", "strokeWidth": 1.6, "strokeDash": [7, 3, 2, 3], "clip": true},
              "encoding": {"stroke": {"field": "series", "type": "nominal", "scale": {"domain": ["Dd_1-Lab", "Dd_3-Lab", "Dd_5-Lab"], "range": ["#e8141c", "#cc44dd", "#e07a1e"]},
                "legend": {"title": null, "orient": "none", "legendX": 42.2, "legendY": 449.5, "symbolType": "M-5,0L5,0", "symbolSize": 135, "symbolStrokeWidth": 1.6, "symbolDash": [5, 2, 1.5, 2], "symbolFillColor": "transparent", "labelFontSize": 21, "labelFont": "Liberation Sans", "labelOffset": 27.2, "rowPadding": 10, "padding": 0, "labelLimit": 300, "encode": {"labels": {"update": {"fill": {"signal": "datum.value=='Dd_1-Lab'?'#d91c1c':datum.value=='Dd_3-Lab'?'#c936d8':'#e8902e'"}}}}}}}}
          ]
        },
        {"data": {"values": [{"label": "a) Ap, 10 cm depth,"}]}, "mark": {"type": "text", "align": "left", "baseline": "middle", "fontSize": 19, "fill": "#222", "font": "Liberation Sans"},
          "encoding": {"x": {"datum": 0.2364, "type": "quantitative"}, "y": {"datum": 6563, "type": "quantitative"}, "text": {"field": "label", "type": "nominal"}}},
        {"data": {"values": [{"label": "Dd site"}]}, "mark": {"type": "text", "align": "left", "baseline": "middle", "fontSize": 19, "fill": "#222", "font": "Liberation Sans"},
          "encoding": {"x": {"datum": 0.2652, "type": "quantitative"}, "y": {"datum": 4168, "type": "quantitative"}, "text": {"field": "label", "type": "nominal"}}}
      ]
    },
    {
      "width": 438,
      "height": 684,
      "layer": [
        {
          "encoding": {
            "x": {"field": "theta", "type": "quantitative", "scale": {"domain": [0.05, 0.4], "nice": false, "zero": false},
              "axis": {"title": "Volumetric Water Content, θ [cm³ cm⁻³]", "titleFontSize": 30, "titlePadding": 26, "titleX": 249, "labelPadding": 9, "values": [0.05, 0.1, 0.15, 0.2, 0.25, 0.3, 0.35, 0.4], "format": ".1f", "labelExpr": "round(datum.value*100)%10==0 ? datum.label : ''", "encode": {"ticks": {"update": {"y2": {"signal": "round(datum.value*100)%10==0 ? 12 : 6"}}}}}},
            "y": {"field": "psi", "type": "quantitative", "scale": {"type": "log", "domain": [0.1, 10000], "nice": false},
              "axis": {"title": null, "labelPadding": 3, "values": [0.1,0.2,0.3,0.4,0.5,0.6,0.7,0.8,0.9,1,2,3,4,5,6,7,8,9,10,20,30,40,50,60,70,80,90,100,200,300,400,500,600,700,800,900,1000,2000,3000,4000,5000,6000,7000,8000,9000,10000], "format": "~g", "labelExpr": "abs(log(datum.value)/LN10-round(log(datum.value)/LN10))<0.001 ? datum.label : ''", "encode": {"ticks": {"update": {"x2": {"signal": "abs(log(datum.value)/LN10-round(log(datum.value)/LN10))<0.001 ? -12 : -6"}}}}}}
          },
          "layer": [
            {"data": {"name": "ptsB"}, "mark": {"type": "circle", "size": 18, "opacity": 1, "clip": true},
              "encoding": {"color": {"field": "series", "type": "nominal", "scale": {"domain": ["Hd_2", "Hd_4", "Hd_6"], "range": ["#14147e", "#3fe0e6", "#1414c8"]},
                "legend": {"title": null, "orient": "none", "legendX": 48.5, "legendY": 574.5, "symbolType": "circle", "symbolSize": 9, "labelFontSize": 21, "labelFont": "Liberation Sans", "labelOffset": 26.5, "rowPadding": 10, "padding": 0, "labelLimit": 300, "encode": {"labels": {"update": {"fill": {"signal": "datum.value=='Hd_2'?'#1e1e80':datum.value=='Hd_4'?'#40dde0':'#2020b0'"}}}}}}}},
            {"data": {"name": "curB"}, "mark": {"type": "line", "strokeWidth": 1.6, "strokeDash": [7, 3, 2, 3], "clip": true},
              "encoding": {"stroke": {"field": "series", "type": "nominal", "scale": {"domain": ["Hd_2-Lab", "Hd_4-Lab", "Hd_6-Lab"], "range": ["#1c1c80", "#3cd6e0", "#2424a0"]},
                "legend": {"title": null, "orient": "none", "legendX": 47.2, "legendY": 449.5, "symbolType": "M-5,0L5,0", "symbolSize": 135, "symbolStrokeWidth": 1.6, "symbolDash": [5, 2, 1.5, 2], "symbolFillColor": "transparent", "labelFontSize": 21, "labelFont": "Liberation Sans", "labelOffset": 28.2, "rowPadding": 10, "padding": 0, "labelLimit": 300, "encode": {"labels": {"update": {"fill": {"signal": "datum.value=='Hd_2-Lab'?'#1e1e80':datum.value=='Hd_4-Lab'?'#40dde0':'#2020a0'"}}}}}}}}
          ]
        },
        {"data": {"values": [{"label": "b) Ap, 10 cm depth,"}]}, "mark": {"type": "text", "align": "left", "baseline": "middle", "fontSize": 19, "fill": "#222", "font": "Liberation Sans"},
          "encoding": {"x": {"datum": 0.2564, "type": "quantitative"}, "y": {"datum": 6280, "type": "quantitative"}, "text": {"field": "label", "type": "nominal"}}},
        {"data": {"values": [{"label": "Hd site"}]}, "mark": {"type": "text", "align": "left", "baseline": "middle", "fontSize": 19, "fill": "#222", "font": "Liberation Sans"},
          "encoding": {"x": {"datum": 0.2844, "type": "quantitative"}, "y": {"datum": 3960, "type": "quantitative"}, "text": {"field": "label", "type": "nominal"}}}
      ]
    }
  ]
}
